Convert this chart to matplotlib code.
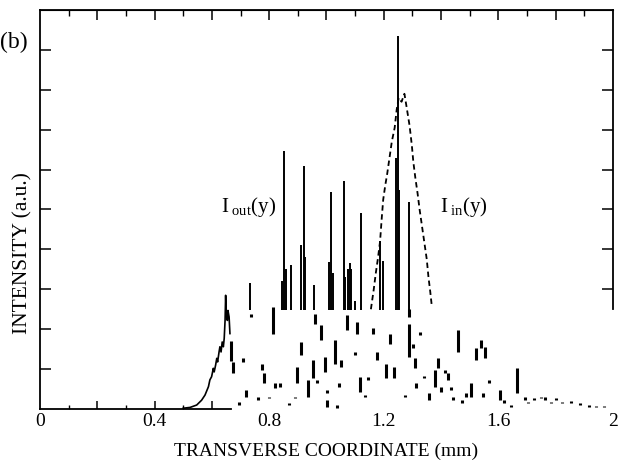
import numpy as np
import matplotlib.pyplot as plt

plt.rcParams['font.family'] = ['Liberation Serif', 'DejaVu Serif']
plt.rcParams['mathtext.fontset'] = 'custom'
plt.rcParams['mathtext.rm'] = 'Liberation Serif'
plt.rcParams['mathtext.it'] = 'Liberation Serif:italic'

# rising edge of the output intensity (solid)
edge_x = [0.500, 0.524, 0.547, 0.564, 0.576, 0.588, 0.593, 0.599, 0.605, 0.608,
          0.613, 0.617, 0.620, 0.625, 0.628, 0.632, 0.636, 0.640, 0.643, 0.646,
          0.648, 0.650, 0.654, 0.656, 0.660, 0.663]
edge_y = [0.02, 0.04, 0.10, 0.22, 0.35, 0.56, 0.73, 0.81, 1.02, 0.93,
          1.10, 1.27, 1.18, 1.43, 1.56, 1.43, 1.68, 1.56, 1.77, 2.22,
          2.85, 2.39, 2.22, 2.47, 2.31, 1.89]

# sharp output peaks standing on the upper baseline
spike_base = 2.48
spike_x = [0.732, 0.843, 0.853, 0.859, 0.876, 0.911, 0.920, 0.926, 0.955,
           1.008, 1.015, 1.021, 1.060, 1.066, 1.075, 1.081, 1.087, 1.100,
           1.120, 1.187, 1.198, 1.244, 1.249, 1.254, 1.288]
spike_top = [3.15, 3.20, 6.46, 3.52, 3.60, 4.10, 6.10, 3.80, 3.10,
             3.68, 5.43, 3.40, 5.72, 3.30, 3.50, 3.65, 3.50, 2.70,
             4.90, 4.20, 3.70, 6.30, 9.35, 5.50, 5.18]

# input intensity profile (dashed)
in_x = [1.155, 1.165, 1.172, 1.180, 1.187, 1.193, 1.198, 1.205, 1.212, 1.220,
        1.228, 1.238, 1.245, 1.252, 1.262, 1.272, 1.280, 1.290, 1.298, 1.303,
        1.310, 1.318, 1.325, 1.333, 1.342, 1.350, 1.356, 1.362, 1.368]
in_y = [2.50, 3.00, 3.40, 3.80, 4.20, 4.80, 5.25, 5.60, 5.90, 6.30,
        6.70, 7.05, 7.50, 7.80, 7.70, 7.90, 7.55, 7.10, 6.60, 6.20,
        5.80, 5.40, 5.00, 4.60, 4.15, 3.75, 3.30, 2.95, 2.55]

# broken low-level part of the output intensity
frag_x = [0.667, 0.672, 0.693, 0.709, 0.718, 0.737, 0.762, 0.776, 0.783, 0.798,
          0.812, 0.820, 0.837, 0.869, 0.890, 0.898, 0.911, 0.936, 0.952, 0.961,
          0.967, 0.981, 0.995, 1.002, 1.002, 1.028, 1.037, 1.042, 1.051, 1.071,
          1.099, 1.105, 1.116, 1.133, 1.146, 1.162, 1.176, 1.209, 1.220, 1.234,
          1.273, 1.287, 1.288, 1.303, 1.310, 1.314, 1.328, 1.342, 1.359, 1.379,
          1.390, 1.398, 1.414, 1.425, 1.435, 1.442, 1.459, 1.472, 1.486, 1.504,
          1.522, 1.539, 1.553, 1.546, 1.567, 1.606, 1.620, 1.643, 1.664, 1.692,
          1.705, 1.726, 1.747, 1.761, 1.782, 1.802, 1.823, 1.855, 1.886, 1.916,
          1.941, 1.969]
frag_lo = [1.20, 0.89, 0.10, 1.18, 0.31, 2.31, 0.225, 0.975, 0.64, 0.27,
           1.89, 0.52, 0.56, 0.10, 0.27, 0.64, 1.35, 0.31, 0.77, 2.14,
           0.64, 1.725, 0.935, 0.39, 0.058, 1.14, 0.017, 0.56, 1.06, 1.975,
           1.35, 1.89, 0.43, 0.31, 0.725, 1.89, 1.225, 0.77, 1.64, 0.77,
           0.29, 1.31, 2.30, 1.52, 1.016, 0.52, 1.85, 0.77, 0.225, 0.56,
           1.016, 0.43, 0.89, 0.725, 0.475, 0.225, 1.435, 0.14, 0.31, 0.31,
           1.225, 1.52, 1.27, 0.31, 0.64, 0.225, 0.14, 0.058, 0.39, 0.225,
           0.14, 0.225, 0.27, 0.225, 0.14, 0.225, 0.14, 0.14, 0.10, 0.06,
           0.04, 0.06]
frag_hi = [1.70, 1.18, 0.18, 1.27, 0.475, 2.39, 0.31, 1.14, 0.89, 0.31,
           2.56, 0.64, 0.64, 0.14, 0.31, 1.06, 1.68, 0.725, 1.225, 2.39,
           0.725, 2.10, 1.31, 0.475, 0.225, 1.725, 0.10, 0.64, 1.225, 2.35,
           1.43, 2.18, 0.81, 0.35, 0.81, 2.02, 1.43, 1.14, 1.89, 1.06,
           0.35, 2.14, 2.50, 1.64, 1.27, 0.64, 1.93, 0.825, 0.39, 0.975,
           1.27, 0.56, 0.975, 0.89, 0.56, 0.31, 1.975, 0.225, 0.39, 0.64,
           1.52, 1.725, 1.56, 0.39, 0.725, 0.475, 0.225, 0.10, 1.016, 0.31,
           0.18, 0.27, 0.31, 0.31, 0.18, 0.27, 0.18, 0.20, 0.14, 0.10,
           0.07, 0.08]

x_ticks = [0, 0.4, 0.8, 1.2, 1.6, 2]
x_ticklabels = ['0', '0.4', '0.8', '1.2', '1.6', '2']

fig = plt.figure(figsize=(6.2, 4.62), dpi=100)
ax = fig.add_axes([0.0645, 0.1147, 0.9242, 0.8637])

ax.plot(edge_x, edge_y, color='black', lw=1.2)
ax.vlines(spike_x, spike_base, spike_top, color='black', lw=1.4)
ax.plot(in_x, in_y, color='black', lw=1.3, linestyle=(0, (3, 2)))
ax.vlines(frag_x, frag_lo, frag_hi, color='black', lw=2.2)

ax.set_xlim(0, 2)
ax.set_ylim(0, 10)

for side in ['left', 'right', 'top', 'bottom']:
    ax.spines[side].set_linewidth(1.3)
ax.spines['bottom'].set_bounds(0, 0.665)
ax.spines['right'].set_bounds(2.5, 10)

# labelled positions without tick marks
ax.set_xticks(x_ticks, x_ticklabels)
ax.tick_params(axis='x', which='major', length=0, labelsize=14, pad=3)
ax.set_yticks(range(1, 10), [])
ax.tick_params(axis='y', direction='in', length=8, width=1.1)

top = ax.secondary_xaxis('top')
top.set_xticks(np.arange(0.2, 2.0, 0.2), [])
top.set_xticks(np.arange(0.1, 2.0, 0.2), minor=True)
top.tick_params(which='major', direction='in', length=7, width=1.1)
top.tick_params(which='minor', direction='in', length=4, width=1.0)

bot = ax.secondary_xaxis('bottom')
bot.spines['bottom'].set_visible(False)
bot.set_xticks([0.2, 0.4, 0.6], [])
bot.set_xticks([0.1, 0.3, 0.5], minor=True)
bot.tick_params(which='major', direction='in', length=6, width=1.1)
bot.tick_params(which='minor', direction='in', length=3, width=1.0)

right = ax.secondary_yaxis('right')
right.spines['right'].set_visible(False)
right.set_yticks(range(3, 10), [])
right.tick_params(direction='in', length=8, width=1.1)

ax.set_xlabel('TRANSVERSE COORDINATE (mm)', fontsize=14, labelpad=9)
ax.set_ylabel('INTENSITY (a.u.)', fontsize=15.5)
ax.yaxis.set_label_coords(-0.013, 0.39)

ax.text(0.632, 5.05, r'$\mathrm{I}_{\ \mathrm{out}}(\mathrm{y})$', fontsize=15,
        ha='left', va='center')
ax.text(1.396, 5.05, r'$\mathrm{I}_{\ \mathrm{in}}(\mathrm{y})$', fontsize=15,
        ha='left', va='center')
fig.text(0.0, 1 - 42 / 462, '(b)', fontsize=17, ha='left', va='center')

fig.savefig('out.png', dpi=100)
